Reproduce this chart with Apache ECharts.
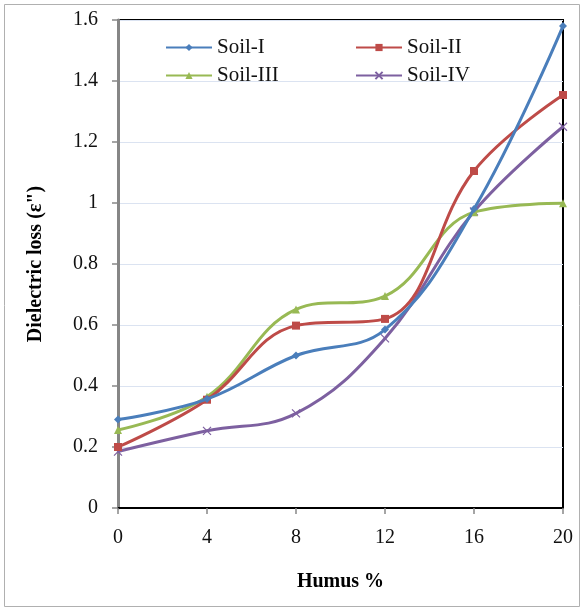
<!DOCTYPE html>
<html>
<head>
<meta charset="utf-8">
<script src="https://cdn.jsdelivr.net/npm/echarts@6/dist/echarts.min.js"></script>
<style>
  html, body { margin: 0; padding: 0; background: #fff; }
  #chart { width: 585px; height: 610px; }
</style>
</head>
<body>
<div id="chart"></div>
<script>
// humus % on x, dielectric loss on y
const humus = [0, 4, 8, 12, 16, 20]
const soil1 = [0.29, 0.357, 0.50, 0.585, 0.98, 1.58]
const soil2 = [0.20, 0.355, 0.598, 0.62, 1.105, 1.354]
const soil3 = [0.256, 0.365, 0.651, 0.695, 0.97, 0.999]
const soil4 = [0.185, 0.253, 0.31, 0.556, 0.972, 1.25]
const seriesNames = ['Soil-I', 'Soil-II', 'Soil-III', 'Soil-IV']
const colors = ['#4a7ebb', '#be4b48', '#98b954', '#7d60a0']

const crossPath = 'path://M0,0L10,10M10,0L0,10'
const symbols = ['diamond', 'rect', 'triangle', crossPath]
const symbolSizes = [8, 8, 8, 8]

const font = '"Liberation Serif", "Times New Roman", serif'

const pair = (ys) => humus.map((x, i) => [x, ys[i]])

const chart = echarts.init(document.getElementById('chart'))

const makeSeries = (name, ys, i) => ({
  name: name,
  type: 'line',
  smooth: 0.4,
  data: pair(ys),
  symbol: symbols[i],
  symbolSize: symbolSizes[i],
  showSymbol: true,
  lineStyle: { color: colors[i], width: 3 },
  itemStyle: i === 3
    ? { color: colors[i], borderColor: colors[i], borderWidth: 1.2 }
    : { color: colors[i] },
  z: 10 - i,
})

// one legend per item so they land in a 2x2 grid
const legendPos = [
  { left: 160, top: 32 },
  { left: 350, top: 32 },
  { left: 160, top: 60 },
  { left: 350, top: 60 },
]
const legends = seriesNames.map((n, i) => ({
  data: [n],
  left: legendPos[i].left,
  top: legendPos[i].top,
  itemWidth: 46,
  itemHeight: 9,
  itemGap: 4,
  textStyle: { fontFamily: font, fontSize: 21, color: '#111' },
}))

chart.setOption({
  backgroundColor: '#fff',
  animation: false,
  color: colors,
  graphic: [{
    type: 'rect',
    shape: { x: 4.5, y: 4.5, width: 575, height: 602 },
    style: { fill: 'none', stroke: '#b0b0b0', lineWidth: 1 },
    silent: true,
  }],
  legend: legends,
  grid: {
    left: 118, right: 22, top: 20, bottom: 102,
    show: true, borderColor: '#000', borderWidth: 2,
  },
  xAxis: {
    type: 'value',
    min: 0, max: 20, interval: 4,
    name: 'Humus %',
    nameLocation: 'middle',
    nameGap: 64,
    nameTextStyle: { fontFamily: font, fontSize: 20, fontWeight: 'bold', color: '#000' },
    axisLine: { lineStyle: { color: '#000', width: 2 } },
    axisTick: { show: true, length: 6, lineStyle: { color: '#888', width: 1.5 } },
    axisLabel: { fontFamily: font, fontSize: 20, color: '#111', margin: 20 },
    splitLine: { show: false },
  },
  yAxis: {
    type: 'value',
    min: 0, max: 1.6, interval: 0.2,
    name: 'Dielectric loss (ε")',
    nameLocation: 'middle',
    nameGap: 72,
    nameTextStyle: { fontFamily: font, fontSize: 20, fontWeight: 'bold', color: '#000' },
    axisLine: { show: true, lineStyle: { color: '#868686', width: 3 } },
    axisTick: { show: true, length: 6, lineStyle: { color: '#888', width: 1.5 } },
    axisLabel: {
      fontFamily: font, fontSize: 20, color: '#111', margin: 20,
      formatter: (v) => String(Math.round(v * 10) / 10),
    },
    splitLine: { lineStyle: { color: '#dbe3f1', width: 1 } },
  },
  series: [
    makeSeries('Soil-I', soil1, 0),
    makeSeries('Soil-II', soil2, 1),
    makeSeries('Soil-III', soil3, 2),
    makeSeries('Soil-IV', soil4, 3),
  ],
})
</script>
</body>
</html>
